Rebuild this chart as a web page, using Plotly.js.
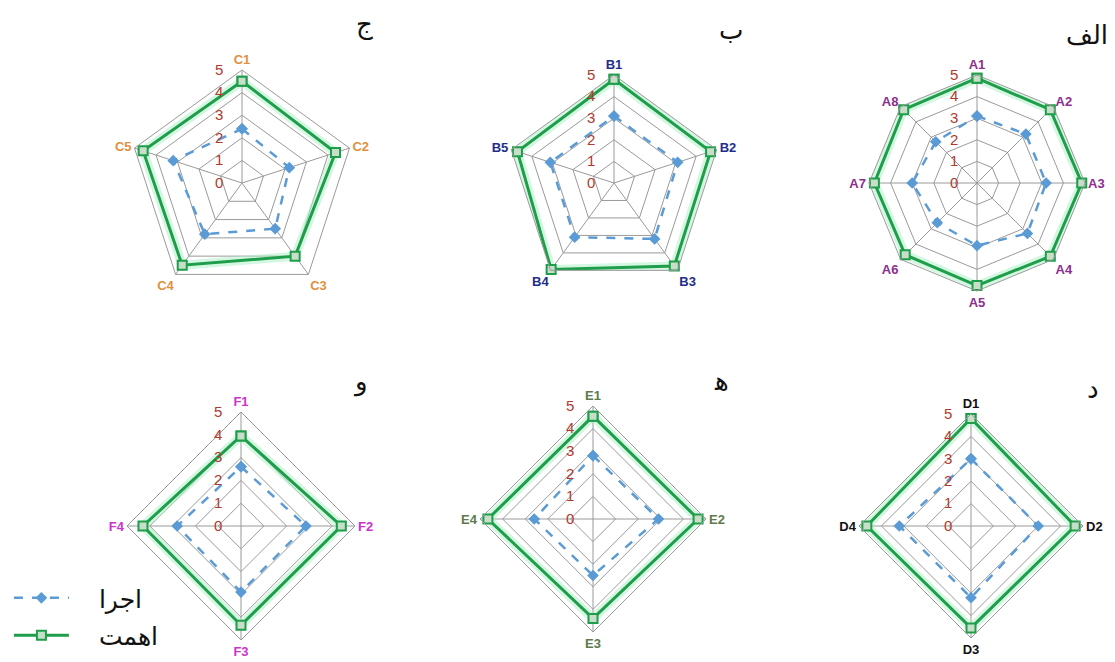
<!DOCTYPE html>
<html>
<head>
<meta charset="utf-8">
<script src="https://cdn.plot.ly/plotly-3.0.1.min.js"></script>
<style>html,body{margin:0;padding:0;background:#fff;}#chart{width:1115px;height:662px;}</style>
</head>
<body>
<div id="chart"></div>
<script>
// ---- Data ----
const catsA = ["A1","A2","A3","A4","A5","A6","A7","A8"];
const execA = [3.1, 3.2, 3.2, 3.3, 2.9, 2.6, 3.0, 2.7];
const impA  = [4.85, 4.8, 4.85, 4.8, 4.75, 4.7, 4.75, 4.8];

const catsB = ["B1","B2","B3","B4","B5"];
const execB = [3.1, 3.1, 3.2, 3.1, 3.1];
const impB  = [4.8, 4.7, 4.75, 4.95, 4.7];

const catsC = ["C1","C2","C3","C4","C5"];
const execC = [2.4, 2.2, 2.5, 2.8, 3.2];
const impC  = [4.5, 4.35, 4.0, 4.5, 4.6];

const catsD = ["D1","D2","D3","D4"];
const execD = [3.0, 3.0, 3.2, 3.2];
const impD  = [4.8, 4.65, 4.55, 4.65];

const catsE = ["E1","E2","E3","E4"];
const execE = [2.8, 2.9, 2.5, 2.6];
const impE  = [4.55, 4.65, 4.4, 4.65];

const catsF = ["F1","F2","F3","F4"];
const execF = [2.6, 2.85, 2.9, 2.8];
const impF  = [3.95, 4.4, 4.35, 4.3];

const panelTitles = ["الف","ب","ج","د","ه\u200d","و"];
const seriesNames = ["اجرا","اهمت"];
const radialTicks = [0,1,2,3,4,5];

// ---- Layout helpers ----
const W = 1115, H = 662;
const panels = [
  {cats: catsA, exec: execA, imp: impA, cx: 977, cy: 183, r: 108, col: "#8E2E8E", title: [1110, 35]},
  {cats: catsB, exec: execB, imp: impB, cx: 614, cy: 183, r: 108, col: "#1F2E8A", title: [745, 30]},
  {cats: catsC, exec: execC, imp: impC, cx: 242, cy: 183, r: 113, col: "#E0913F", title: [375, 25]},
  {cats: catsD, exec: execD, imp: impD, cx: 971, cy: 526, r: 112, col: "#111111", title: [1101, 389]},
  {cats: catsE, exec: execE, imp: impE, cx: 593, cy: 519, r: 113, col: "#5E7A4A", title: [731, 381]},
  {cats: catsF, exec: execF, imp: impF, cx: 241, cy: 526, r: 114, col: "#CC33CC", title: [370, 381]}
];

const close = a => a.concat([a[0]]);
const pad = "\u2003";
const traces = [];
const layout = {
  width: W, height: H,
  margin: {l:0, r:0, t:0, b:0},
  paper_bgcolor: "#ffffff",
  showlegend: true,
  legend: {x: 0.008, y: 0.006, xanchor: "left", yanchor: "bottom",
           font: {family: "DejaVu Sans", size: 25, color: "#111"},
           itemwidth: 55, tracegroupgap: 2, bgcolor: "rgba(0,0,0,0)"},
  annotations: []
};

panels.forEach((p, i) => {
  const id = i === 0 ? "polar" : "polar" + (i + 1);
  layout[id] = {
    domain: {x: [(p.cx - p.r) / W, (p.cx + p.r) / W], y: [(H - p.cy - p.r) / H, (H - p.cy + p.r) / H]},
    gridshape: "linear",
    bgcolor: "#ffffff",
    radialaxis: {
      range: [0, 5], tickvals: radialTicks, angle: 90, tickangle: 90,
      showline: false, ticks: "outside", ticklen: 13, tickcolor: "rgba(0,0,0,0)",
      gridcolor: "#9a9a9a", gridwidth: 1, side: "counterclockwise",
      tickfont: {family: "Liberation Sans", size: 15, color: "#B03A2E"}
    },
    angularaxis: {
      type: "category", categoryarray: p.cats, direction: "clockwise", rotation: 90,
      linecolor: "#9a9a9a", linewidth: 1, gridcolor: "#9a9a9a", ticks: "",
      tickfont: {family: "Liberation Sans", size: 13, color: p.col, weight: "bold"}
    }
  };
  const sp = id;
  const th = close(p.cats);
  traces.push({
    type: "scatterpolar", subplot: sp, r: close(p.imp), theta: th, mode: "lines",
    line: {color: "rgba(170,240,195,0.5)", width: 9}, showlegend: false, hoverinfo: "skip"
  });
  traces.push({
    type: "scatterpolar", subplot: sp, r: close(p.exec), theta: th, mode: "lines+markers",
    name: pad + seriesNames[0], legendgroup: "exec", showlegend: i === 0,
    line: {color: "#5B9BD5", width: 2.5, dash: "dash"},
    marker: {symbol: "diamond", size: 9, color: "#5B9BD5"}
  });
  traces.push({
    type: "scatterpolar", subplot: sp, r: close(p.imp), theta: th, mode: "lines+markers",
    name: pad + seriesNames[1], legendgroup: "imp", showlegend: i === 0,
    line: {color: "#1E9E4A", width: 3},
    marker: {symbol: "square", size: 9, color: "#C9DEC9", line: {color: "#1E9E4A", width: 2}}
  });
  layout.annotations.push({
    text: panelTitles[i], xref: "paper", yref: "paper", xanchor: "right", yanchor: "middle",
    x: p.title[0] / W, y: 1 - p.title[1] / H, showarrow: false,
    font: {family: "DejaVu Sans", size: 26, color: "#111"}
  });
});

Plotly.newPlot("chart", traces, layout, {displayModeBar: false, staticPlot: true});
</script>
</body>
</html>
